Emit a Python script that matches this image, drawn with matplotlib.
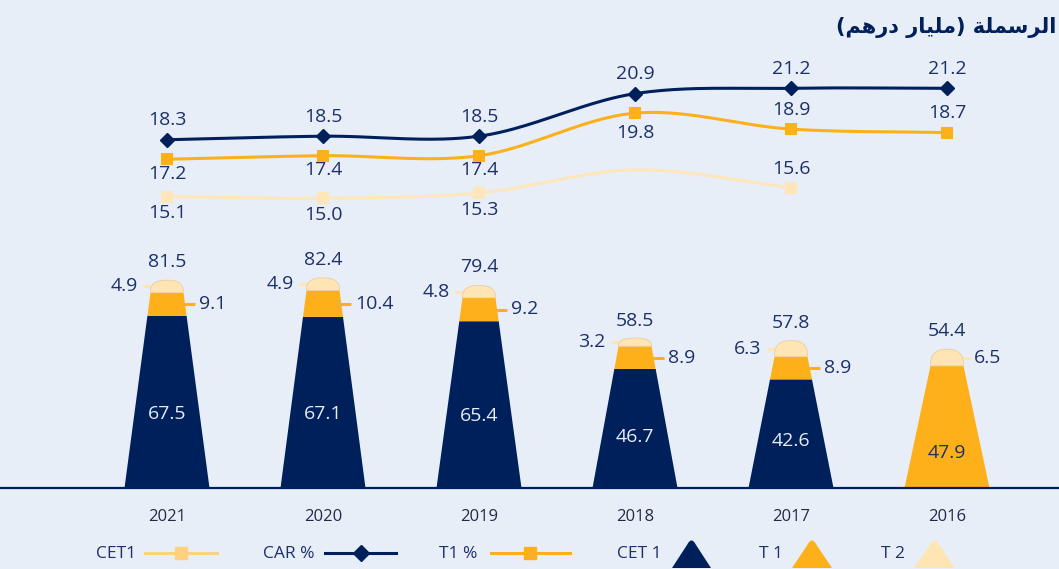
import numpy as np
import matplotlib
matplotlib.use("Agg")
import matplotlib.pyplot as plt
from matplotlib.path import Path
from matplotlib.patches import PathPatch, Polygon
from matplotlib.lines import Line2D
import matplotlib.transforms as mtransforms

# ---------------- data ----------------
years = ["2021", "2020", "2019", "2018", "2017", "2016"]
cet1_bn = [67.5, 67.1, 65.4, 46.7, 42.6, None]
t1_bn = [9.1, 10.4, 9.2, 8.9, 8.9, 47.9]
t2_bn = [4.9, 4.9, 4.8, 3.2, 6.3, 6.5]
total_bn = [81.5, 82.4, 79.4, 58.5, 57.8, 54.4]
car_pct = [18.3, 18.5, 18.5, 20.9, 21.2, 21.2]
t1_pct = [17.2, 17.4, 17.4, 19.8, 18.9, 18.7]
cet1_pct = [15.1, 15.0, 15.3, 16.6, 15.6, None]
cet1_pct_shown = [True, True, True, False, True, False]
title = "الرسملة (مليار درهم)"
legend_labels = ["CET1", "CAR %", "T1 %", "CET 1", "T 1", "T 2"]

# ---------------- style ----------------
W, H = 1059, 569
BG = "#E7EEF8"
NAVY = "#00205B"
ORANGE = "#FDB019"
CREAM = "#FFE5B4"
CREAM_LINE = "#FFE6BA"
CREAM_LEG = "#FFD07E"
TXT = "#1d3068"
FONT = "Open Sans"

PX_X = 156.0          # px per category
X0 = 167.0            # px of first category
K_BAR = 2.55          # px per bn
BASE = 81.0           # baseline px from bottom
K_LINE = 17.74        # px per pct
REF_V, REF_PX = 21.2, 480.7

fig = plt.figure(figsize=(W / 100, H / 100), dpi=100)
fig.patch.set_facecolor(BG)
ax = fig.add_axes([0, 0, 1, 1])
ax.set_facecolor(BG)
ax.set_xlim(-X0 / PX_X, (W - X0) / PX_X)
ax.set_ylim(-BASE / K_BAR, (H - BASE) / K_BAR)
ax.axis("off")
ax2 = ax.twinx()
ax2.set_ylim(REF_V - REF_PX / K_LINE, REF_V + (H - REF_PX) / K_LINE)
ax2.axis("off")

xs = np.arange(len(years))

# baseline
ax.axhline(0, color=NAVY, lw=1.6, zorder=3)

wb = 85 / PX_X
wt = 33 / PX_X
lead = 10 / PX_X
gap = 3 / PX_X


def width_at(v, top):
    return wb + (wt - wb) * v / top


def seg_poly(x, a, b, top, color):
    wa, wb_ = width_at(a, top), width_at(b, top)
    pts = [(x - wa / 2, a), (x + wa / 2, a), (x + wb_ / 2, b), (x - wb_ / 2, b)]
    ax.add_patch(Polygon(pts, closed=True, facecolor=color, edgecolor="none", zorder=2))


for i, x in enumerate(xs):
    c = cet1_bn[i] or 0.0
    t1 = t1_bn[i]
    t2 = t2_bn[i]
    top = c + t1
    if cet1_bn[i] is not None:
        seg_poly(x, 0, c, top, NAVY)
    seg_poly(x, c, top, top, ORANGE)
    # cap (superellipse half)
    t = np.linspace(0, np.pi, 80)
    n = 2.6
    cx = np.sign(np.cos(t)) * np.abs(np.cos(t)) ** (2 / n)
    cy = np.abs(np.sin(t)) ** (2 / n)
    cap = np.column_stack([x + wt / 2 * cx, top + t2 * cy])
    ax.add_patch(Polygon(cap, closed=True, facecolor=CREAM, edgecolor="#E9CFA0",
                         lw=0.6, zorder=2))

    # labels
    if cet1_bn[i] is not None:
        ax.text(x, 0.43 * c, f"{c:.1f}", color="#E8EEF8", ha="center", va="center",
                fontsize=14, family=FONT, zorder=4)
        # T1 leader right
        ym = c + t1 / 2
        ex = x + width_at(ym, top) / 2
        ax.plot([ex - gap, ex + lead], [ym, ym], color=ORANGE, lw=2.2,
                solid_capstyle="butt", zorder=1)
        ax.text(ex + lead + 4 / PX_X, ym, f"{t1:.1f}", color=TXT, ha="left",
                va="center", fontsize=14, family=FONT)
    else:
        ax.text(x, 0.29 * t1, f"{t1:.1f}", color=TXT, ha="center", va="center",
                fontsize=14, family=FONT, zorder=4)
    # T2 leader
    ym = top + t2 / 2
    dx = wt / 2 * 0.87
    if cet1_bn[i] is not None:
        ex = x - dx
        ax.plot([ex + gap, ex - lead], [ym, ym], color=CREAM, lw=2.2,
                solid_capstyle="butt", zorder=1)
        ax.text(ex - lead - 5 / PX_X, ym, f"{t2:.1f}", color=TXT, ha="right",
                va="center", fontsize=14, family=FONT)
    else:
        ex = x + dx
        ax.plot([ex - gap, ex + lead], [ym, ym], color=CREAM, lw=2.2,
                solid_capstyle="butt", zorder=1)
        ax.text(ex + lead + 3 / PX_X, ym, f"{t2:.1f}", color=TXT, ha="left",
                va="center", fontsize=14, family=FONT)
    # total
    ax.annotate(f"{total_bn[i]:.1f}", (x, total_bn[i] if cet1_bn[i] is not None else top + t2),
                xytext=(0, 13), textcoords="offset points", ha="center", va="center",
                color=TXT, fontsize=14, family=FONT)

# x labels
trans = mtransforms.blended_transform_factory(ax.transData, ax.transAxes)
for i, x in enumerate(xs):
    ax.text(x, 52 / H, years[i], transform=trans, ha="center", va="center",
            color="#222b45", fontsize=12, family=FONT)


# ---------------- lines ----------------
def catmull(px, py, n=40):
    P = np.column_stack([px, py]).astype(float)
    P = np.vstack([2 * P[0] - P[1], P, 2 * P[-1] - P[-2]])
    out = []
    tt = np.linspace(0, 1, n, endpoint=False)[:, None]
    for k in range(1, len(P) - 2):
        p0, p1, p2, p3 = P[k - 1], P[k], P[k + 1], P[k + 2]
        seg = 0.5 * ((2 * p1) + (-p0 + p2) * tt + (2 * p0 - 5 * p1 + 4 * p2 - p3) * tt ** 2
                     + (-p0 + 3 * p1 - 3 * p2 + p3) * tt ** 3)
        out.append(seg)
    out.append(P[-2][None, :])
    return np.vstack(out)


def smooth_line(vals, color, lw):
    idx = [i for i, v in enumerate(vals) if v is not None]
    v = np.array([vals[i] for i in idx], float)
    pts = catmull(np.array(idx) * PX_X, v * K_LINE)
    ax2.plot(pts[:, 0] / PX_X, pts[:, 1] / K_LINE, color=color, lw=lw,
             solid_capstyle="round", zorder=3)


smooth_line(cet1_pct, CREAM_LINE, 2.2)
smooth_line(t1_pct, ORANGE, 2.2)
smooth_line(car_pct, NAVY, 2.2)

for i, x in enumerate(xs):
    # CAR
    ax2.plot(x, car_pct[i], marker="D", ms=7.5, color=NAVY, mec=NAVY, zorder=4)
    ax2.annotate(f"{car_pct[i]:.1f}", (x, car_pct[i]), xytext=(0, 14),
                 textcoords="offset points", ha="center", va="center",
                 color=TXT, fontsize=14, family=FONT)
    # T1
    ax2.plot(x, t1_pct[i], marker="s", ms=7.5, color=ORANGE, mec=ORANGE,
             mew=1.5, mfc=ORANGE, zorder=4)
    off = -10.5 if i < 3 else (-14 if i == 3 else 14)
    ax2.annotate(f"{t1_pct[i]:.1f}", (x, t1_pct[i]), xytext=(0, off),
                 textcoords="offset points", ha="center", va="center",
                 color=TXT, fontsize=14, family=FONT)
    # CET1
    if cet1_pct[i] is not None and cet1_pct_shown[i]:
        ax2.plot(x, cet1_pct[i], marker="s", ms=7.5, color=CREAM_LINE, mec=CREAM_LINE,
                 mew=1.5, zorder=4)
        off = 13.5 if i == 4 else -12
        ax2.annotate(f"{cet1_pct[i]:.1f}", (x, cet1_pct[i]), xytext=(0, off),
                     textcoords="offset points", ha="center", va="center",
                     color=TXT, fontsize=14, family=FONT)


# ---------------- title (Arabic, pre-shaped, visual order) ----------------
def shape_title(s):
    # simple contextual shaping for the letters in this title
    forms = {
        'ا': ('\uFE8D', '\uFE8E', None, None),
        'ل': ('\uFEDD', '\uFEDE', '\uFEDF', '\uFEE0'),
        'ر': ('\uFEAD', '\uFEAE', None, None),
        'س': ('\uFEB1', '\uFEB2', '\uFEB3', '\uFEB4'),
        'م': ('\uFEE1', '\uFEE2', '\uFEE3', '\uFEE4'),
        'ة': ('\uFE93', '\uFE94', None, None),
        'ي': ('\uFEF1', '\uFEF2', '\uFEF3', '\uFEF4'),
        'د': ('\uFEA9', '\uFEAA', None, None),
        'ه': ('\uFEE9', '\uFEEA', '\uFEEB', '\uFEEC'),
    }
    out = []
    for k, ch in enumerate(s):
        if ch not in forms:
            out.append(ch)
            continue
        prev = s[k - 1] if k > 0 else ''
        nxt = s[k + 1] if k + 1 < len(s) else ''
        joins_prev = prev in forms and forms[prev][2] is not None
        joins_next = nxt in forms and forms[ch][2] is not None
        iso, fin, ini, med = forms[ch]
        if joins_prev and joins_next:
            out.append(med)
        elif joins_prev:
            out.append(fin)
        elif joins_next:
            out.append(ini)
        else:
            out.append(iso)
    vis = out[::-1]
    mirror = {'(': ')', ')': '('}
    return ''.join(mirror.get(c, c) for c in vis)


fig.text(1056 / W, 1 - 27 / H, shape_title(title), ha="right", va="center",
         color=NAVY, fontsize=15, fontweight="bold", family="DejaVu Sans")


# ---------------- legend ----------------
def fx(x):
    return x / W


def fy(y):
    return 1 - y / H


LY = 553
leg_text_x = [96, 263, 439, 617, 759, 881]
for lab, tx in zip(legend_labels, leg_text_x):
    fig.text(fx(tx), fy(LY + 1), lab, ha="left", va="center", color=TXT,
             fontsize=12.5, family=FONT)

for (x0, x1, xm, col, mk) in [(145, 217, 181, CREAM_LEG, "s"),
                              (325, 396, 361, NAVY, "D"),
                              (491, 570, 530, ORANGE, "s")]:
    fig.add_artist(Line2D([fx(x0), fx(x1)], [fy(LY), fy(LY)], color=col, lw=2.2,
                          transform=fig.transFigure))
    fig.add_artist(Line2D([fx(xm)], [fy(LY)], marker=mk, ms=8, color=col, mec=col,
                          transform=fig.transFigure))


def tri_icon(x0, x1, color):
    yb, yt = 568, 538
    xm = (x0 + x1) / 2
    r = 0.22
    lx = x0 + (xm - x0) * (1 - r)
    rx = x1 - (x1 - xm) * (1 - r)
    ly = yb - (yb - yt) * (1 - r)
    verts = [(x0, yb), (lx, ly), (xm, yt - 2), (rx, ly), (x1, yb), (x0, yb)]
    codes = [Path.MOVETO, Path.LINETO, Path.CURVE3, Path.CURVE3, Path.LINETO, Path.CLOSEPOLY]
    verts = [(fx(a), fy(b)) for a, b in verts]
    fig.add_artist(PathPatch(Path(verts, codes), facecolor=color, edgecolor="none",
                             transform=fig.transFigure))


tri_icon(672, 711, NAVY)
tri_icon(792, 832, ORANGE)
tri_icon(914, 955, CREAM)

fig.savefig("out.png", dpi=100, facecolor=BG)
